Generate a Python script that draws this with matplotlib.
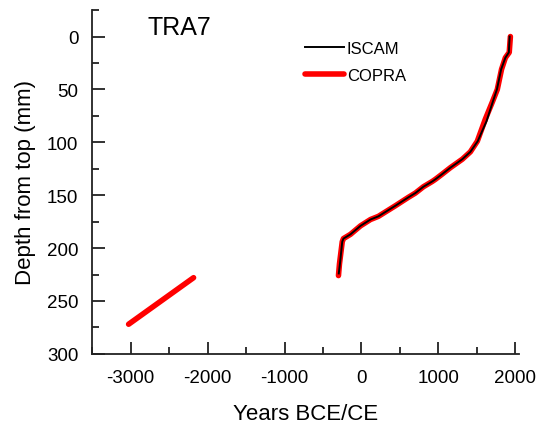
import matplotlib
matplotlib.use("Agg")
import matplotlib.pyplot as plt
from matplotlib.ticker import MultipleLocator

plt.rcParams['font.family'] = ['Liberation Sans', 'DejaVu Sans']
plt.rcParams['axes.unicode_minus'] = False

# age-depth model, main section (year CE, depth mm)
copra_years = [1935, 1920, 1870, 1820, 1765, 1700, 1610, 1505, 1415, 1310,
               1155, 1050, 960, 920, 805, 700, 610, 440, 220, 117, -13,
               -143, -234, -250, -286, -299]
copra_depth = [0, 15, 20, 31, 50, 62, 78, 99, 109, 116,
               124, 130, 135, 137, 142, 148, 152, 160, 170, 173, 179,
               187, 191, 194, 215, 226]

iscam_years = [1925, 1915, 1870, 1815, 1760, 1705, 1625, 1510, 1415, 1310,
               1155, 1050, 960, 920, 805, 700, 610, 440, 220, 117, -13,
               -143, -234, -250, -280, -295]
iscam_depth = [0, 15, 20, 31, 50, 62, 80, 99, 109, 116,
               124, 130, 135, 137, 142, 148, 152, 160, 170, 173, 179,
               187, 191, 194, 215, 224]

# lower segment (COPRA only)
copra_low_years = [-3026, -2182]
copra_low_depth = [272, 228]

fig = plt.figure(figsize=(5.42, 4.27), dpi=100)
ax = fig.add_axes([0.170, 0.169, 0.788, 0.805])

ax.plot(copra_years, copra_depth, color='#ff0000', lw=4,
        solid_capstyle='round', label='COPRA')
ax.plot(copra_low_years, copra_low_depth, color='#ff0000', lw=4,
        solid_capstyle='round')
ax.plot(iscam_years, iscam_depth, color='black', lw=1.4, label='ISCAM')

ax.set_xlim(-3500, 2050)
ax.set_ylim(300, -25)
ax.xaxis.set_major_locator(MultipleLocator(1000))
ax.xaxis.set_minor_locator(MultipleLocator(500))
ax.yaxis.set_major_locator(MultipleLocator(50))
ax.yaxis.set_minor_locator(MultipleLocator(25))
ax.set_yticks([0, 50, 100, 150, 200, 250, 300])

for side in ['top', 'right']:
    ax.spines[side].set_visible(False)
for side in ['left', 'bottom']:
    ax.spines[side].set_linewidth(1.3)
    ax.spines[side].set_color('#222222')

ax.tick_params(axis='both', which='major', direction='in', length=9,
               width=1.3, labelsize=13.5, color='#222222')
ax.tick_params(axis='both', which='minor', direction='in', length=5,
               width=1.3, color='#222222')
ax.tick_params(axis='x', which='major', pad=11)
ax.tick_params(axis='y', which='major', pad=10)

ax.set_xlabel('Years BCE/CE', fontsize=16, labelpad=12)
ax.set_ylabel('Depth from top (mm)', fontsize=16, labelpad=8)

ax.text(0.13, 0.985, 'TRA7', transform=ax.transAxes, fontsize=18,
        va='top', ha='left')

handles, labels = ax.get_legend_handles_labels()
leg = ax.legend(handles[::-1], labels[::-1], loc='upper left',
                bbox_to_anchor=(0.464, 0.955), frameon=False, fontsize=12,
                handlelength=2.3, handletextpad=0.2, labelspacing=0.75)

fig.savefig('out.png', dpi=100)
